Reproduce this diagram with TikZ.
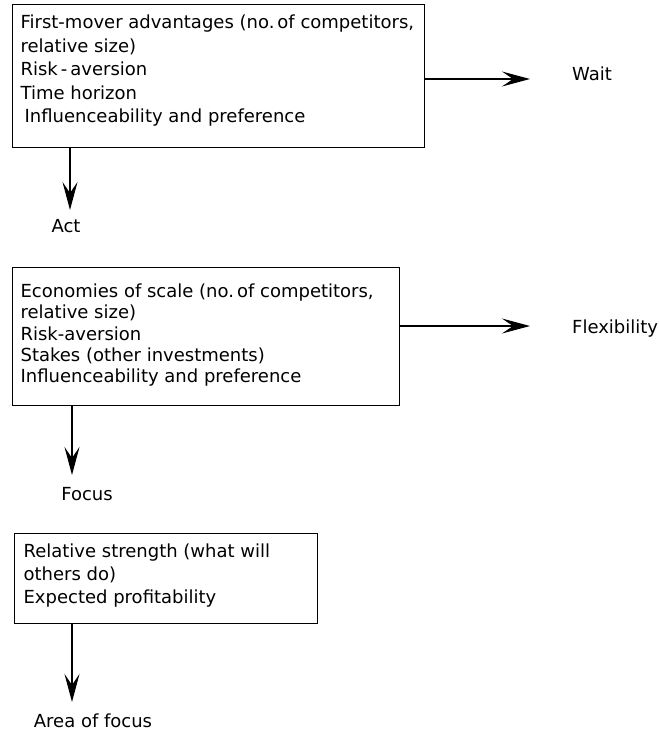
\documentclass[tikz,border=0pt]{standalone}
\usepackage{fontspec}
\setmainfont{DejaVu Sans}
\usetikzlibrary{arrows.meta}
\begin{document}
\begin{tikzpicture}[x=1pt,y=-1pt,
  boxnode/.style={draw, line width=1.2pt, inner sep=0pt, anchor=north west},
  lbl/.style={font=\fontsize{18}{22}\selectfont, inner sep=0pt},
  arr/.style={line width=1.2pt, -{Stealth[length=28pt,width=15pt,inset=11pt]}}]
\useasboundingbox[fill=white] (0,0) rectangle (659,732);
% boxes
\node[boxnode] (b1) at (12,4) {\parbox[c][143pt][t]{412pt}{\fontsize{18}{23.5}\selectfont\raggedright\leftskip=8pt
\vspace*{7.5pt}\strut First-mover advantages (no.\,of competitors,\\
relative size)\\
Risk\,-\,aversion\\
Time horizon\\
\hspace*{4pt}Influenceability and preference}};
\node[boxnode] (b2) at (12,267) {\parbox[c][138pt][t]{387pt}{\fontsize{18}{21.3}\selectfont\raggedright\leftskip=8pt
\vspace*{15pt}\strut Economies of scale (no.\,of competitors,\\
relative size)\\
Risk-aversion\\
Stakes (other investments)\\
Influenceability and preference}};
\node[boxnode] (b3) at (14,533) {\parbox[c][90pt][t]{303pt}{\fontsize{18}{23}\selectfont\raggedright\leftskip=9pt
\vspace*{7.9pt}\strut Relative strength (what will\\
others do)\\
Expected profitability}};
% labels
\node[lbl, anchor=base west] (wait) at (572,80) {Wait};
\node[lbl, anchor=base west] (flex) at (572,333) {Flexibility};
\node[lbl, anchor=base] (act) at (66,232) {Act};
\node[lbl, anchor=base] (focus) at (87,500) {Focus};
\node[lbl, anchor=base] (area) at (93,727) {Area of focus};
% arrow ends
\coordinate (t1) at (530,79);
\coordinate (t2) at (530,326);
\coordinate (d1) at (70,210);
\coordinate (d2) at (72,475);
\coordinate (d3) at (72,702);
% connectors
\draw[arr] (b1.east |- t1) -- (t1);
\draw[arr] (b2.east |- t2) -- (t2);
\draw[arr] (b1.south -| d1) -- (d1);
\draw[arr] (b2.south -| d2) -- (d2);
\draw[arr] (b3.south -| d3) -- (d3);
\end{tikzpicture}
\end{document}
